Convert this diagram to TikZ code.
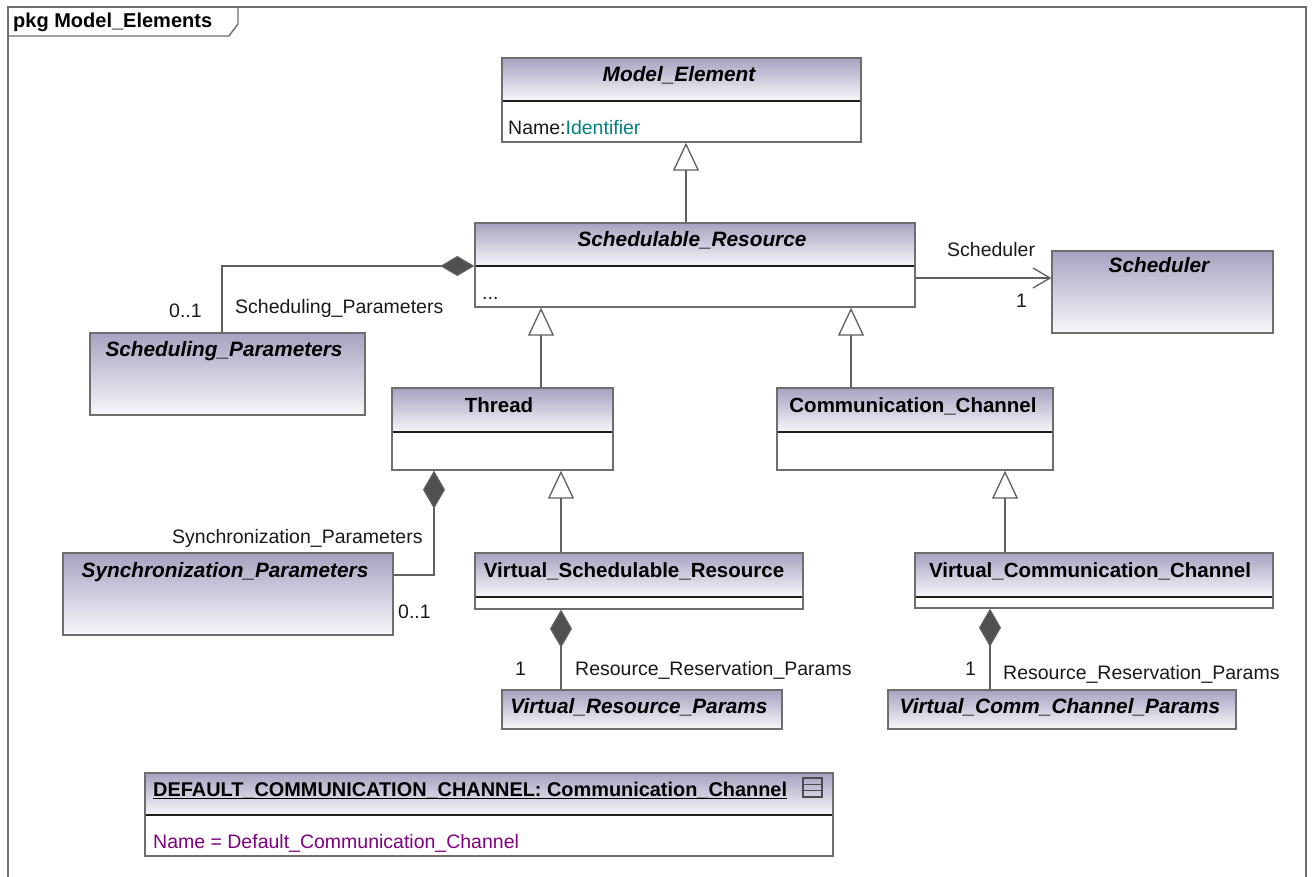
\documentclass[tikz,border=0pt]{standalone}
\usepackage{fontspec}
\setmainfont{Liberation Sans}
\usetikzlibrary{arrows.meta,fit}

\definecolor{hdtop}{RGB}{166,163,193}
\definecolor{hdbot}{RGB}{247,247,250}
\definecolor{boxline}{RGB}{110,110,110}
\definecolor{divline}{RGB}{30,30,30}
\definecolor{linkgrey}{RGB}{95,95,95}
\definecolor{diamondgrey}{RGB}{80,80,80}
\definecolor{attrteal}{RGB}{0,128,128}
\definecolor{slotpurple}{RGB}{128,0,128}
\definecolor{textdark}{RGB}{25,25,25}

\tikzset{
  umlbox/.style={draw=boxline, line width=1.4pt, inner sep=0pt},
  divider/.style={draw=divline, line width=1.4pt},
  lbl/.style={font=\fontsize{19.5}{22}\selectfont, text=textdark, inner sep=0pt},
  ctitle/.style={font=\fontsize{20.5}{24}\selectfont\bfseries, text=black, inner sep=0pt, anchor=base},
  atitle/.style={ctitle, font=\fontsize{20.8}{24}\selectfont\bfseries\itshape},
  link/.style={draw=linkgrey, line width=1.3pt},
  gen/.style={link, -{Triangle[fill=white, length=28pt, width=26pt, line width=1.3pt]}},
  compv/.style={link, {Diamond[fill=diamondgrey, length=38pt, width=22pt]}-},
  comph/.style={link, {Diamond[fill=diamondgrey, length=34pt, width=20pt]}-},
  navig/.style={link, -{Straight Barb[length=17pt, width=20pt, line width=1.3pt]}},
}

% class with a shaded name compartment and a white attribute compartment
\newcommand\classbox[6]{%
  \shade[top color=hdtop, bottom color=hdbot] (#2,#3) rectangle (#4,#6);
  \draw[divider] (#2,#6) -- (#4,#6);
  \node[umlbox, fit={(#2,#3) (#4,#5)}] (#1) {};
}
% class drawn as a single shaded compartment
\newcommand\plainbox[5]{%
  \shade[top color=hdtop, bottom color=hdbot] (#2,#3) rectangle (#4,#5);
  \node[umlbox, fit={(#2,#3) (#4,#5)}] (#1) {};
}

\begin{document}
\begin{tikzpicture}[x=1pt, y=-1pt]
\useasboundingbox (0,0) rectangle (1312,877);
\fill[white] (0,0) rectangle (1312,877);

% package frame and its tab
\draw[boxline, line width=1.4pt] (8,900) -- (8,7) -- (1306,7) -- (1306,900);
\draw[boxline, line width=1.4pt] (8,36) -- (229,36) -- (238,24) -- (238,7);
\node[font=\fontsize{20}{24}\selectfont\bfseries, inner sep=0pt, anchor=base west] (pkg) at (13,28) {pkg Model\_Elements};

% classes
\classbox{me}{502}{58}{861}{142}{101}
\node[atitle] (me-t) at (679,82) {Model\_Element};
\node[lbl, anchor=base west] (me-a) at (508,135) {Name:\textcolor{attrteal}{Identifier}};

\classbox{sr}{475}{223}{915}{307}{266}
\node[atitle] (sr-t) at (692,247) {Schedulable\_Resource};
\node[lbl, anchor=base west] (sr-a) at (482,300) {...};

\plainbox{sp}{90}{333}{365}{415}
\node[atitle] (sp-t) at (224,356) {Scheduling\_Parameters};

\plainbox{sch}{1052}{251}{1273}{333}
\node[atitle] (sch-t) at (1159,273) {Scheduler};

\classbox{th}{392}{388}{613}{470}{432}
\node[ctitle] (th-t) at (499,412) {Thread};

\classbox{cc}{777}{388}{1053}{470}{432}
\node[ctitle] (cc-t) at (913,412) {Communication\_Channel};

\plainbox{syn}{63}{553}{393}{635}
\node[atitle] (syn-t) at (225,577) {Synchronization\_Parameters};

\classbox{vsr}{475}{553}{803}{609}{597}
\node[ctitle] (vsr-t) at (634,577) {Virtual\_Schedulable\_Resource};

\classbox{vcc}{915}{553}{1273}{608}{597}
\node[ctitle] (vcc-t) at (1090,577) {Virtual\_Communication\_Channel};

\plainbox{vrp}{502}{690}{782}{729}
\node[atitle] (vrp-t) at (639,713) {Virtual\_Resource\_Params};

\plainbox{vcp}{888}{690}{1236}{729}
\node[atitle] (vcp-t) at (1060,713) {Virtual\_Comm\_Channel\_Params};

% instance specification
\classbox{inst}{145}{773}{833}{856}{815}
\node[font=\fontsize{19.9}{24}\selectfont\bfseries, inner sep=0pt, anchor=base west] (inst-t) at (153,796)
  {DEFAULT\_COMMUNICATION\_CHANNEL: Communication\_Channel};
\draw[line width=1.4pt, black] ([yshift=-2.5pt]inst-t.base west) -- ([yshift=-2.5pt]inst-t.base east);
\node[lbl, anchor=base west, text=slotpurple] (inst-a) at (153,848) {Name = Default\_Communication\_Channel};
\draw[draw=divline!80, line width=1.4pt] (803,778) rectangle (822,797);
\draw[draw=divline!80, line width=1.4pt] (803,784.5) -- (822,784.5) (803,790.5) -- (822,790.5);

% generalizations
\draw[gen] ([xshift=-9pt]sr.north) -- ([xshift=-9pt]sr.north |- me.south);
\draw[gen] ([xshift=38.5pt]th.north) -- ([xshift=38.5pt]th.north |- sr.south);
\draw[gen] ([xshift=-64pt]cc.north) -- ([xshift=-64pt]cc.north |- sr.south);
\draw[gen] ([xshift=-78pt]vsr.north) -- ([xshift=-78pt]vsr.north |- th.south);
\draw[gen] ([xshift=-89pt]vcc.north) -- ([xshift=-89pt]vcc.north |- cc.south);

% compositions
\draw[comph] ([yshift=-1pt]sr.west) -| ([xshift=-5.5pt]sp.north);
\draw[compv] ([xshift=-68.5pt]th.south) |- ([yshift=19pt]syn.east);
\draw[compv] ([xshift=-78pt]vsr.south) -- ([xshift=-78pt]vsr.south |- vrp.north);
\draw[compv] ([xshift=-104pt]vcc.south) -- ([xshift=-104pt]vcc.south |- vcp.north);

% navigable association
\draw[navig] ([yshift=-13pt]sr.east) -- ([yshift=-13pt]sr.east -| sch.west);

% association end labels
\node[lbl, anchor=base west] (l-sp) at (235,314) {Scheduling\_Parameters};
\node[lbl, anchor=base west] (m-sp) at (169,318) {0..1};
\node[lbl, anchor=base west] (l-sch) at (947,257) {Scheduler};
\node[lbl, anchor=base west] (m-sch) at (1016,308) {1};
\node[lbl, anchor=base west] (l-syn) at (172,543) {Synchronization\_Parameters};
\node[lbl, anchor=base west] (m-syn) at (398,618) {0..1};
\node[lbl, anchor=base west] (m-vrp) at (515,675) {1};
\node[lbl, anchor=base west] (l-vrp) at (575,675) {Resource\_Reservation\_Params};
\node[lbl, anchor=base west] (m-vcp) at (965,675) {1};
\node[lbl, anchor=base west] (l-vcp) at (1003,679) {Resource\_Reservation\_Params};
\end{tikzpicture}
\end{document}
